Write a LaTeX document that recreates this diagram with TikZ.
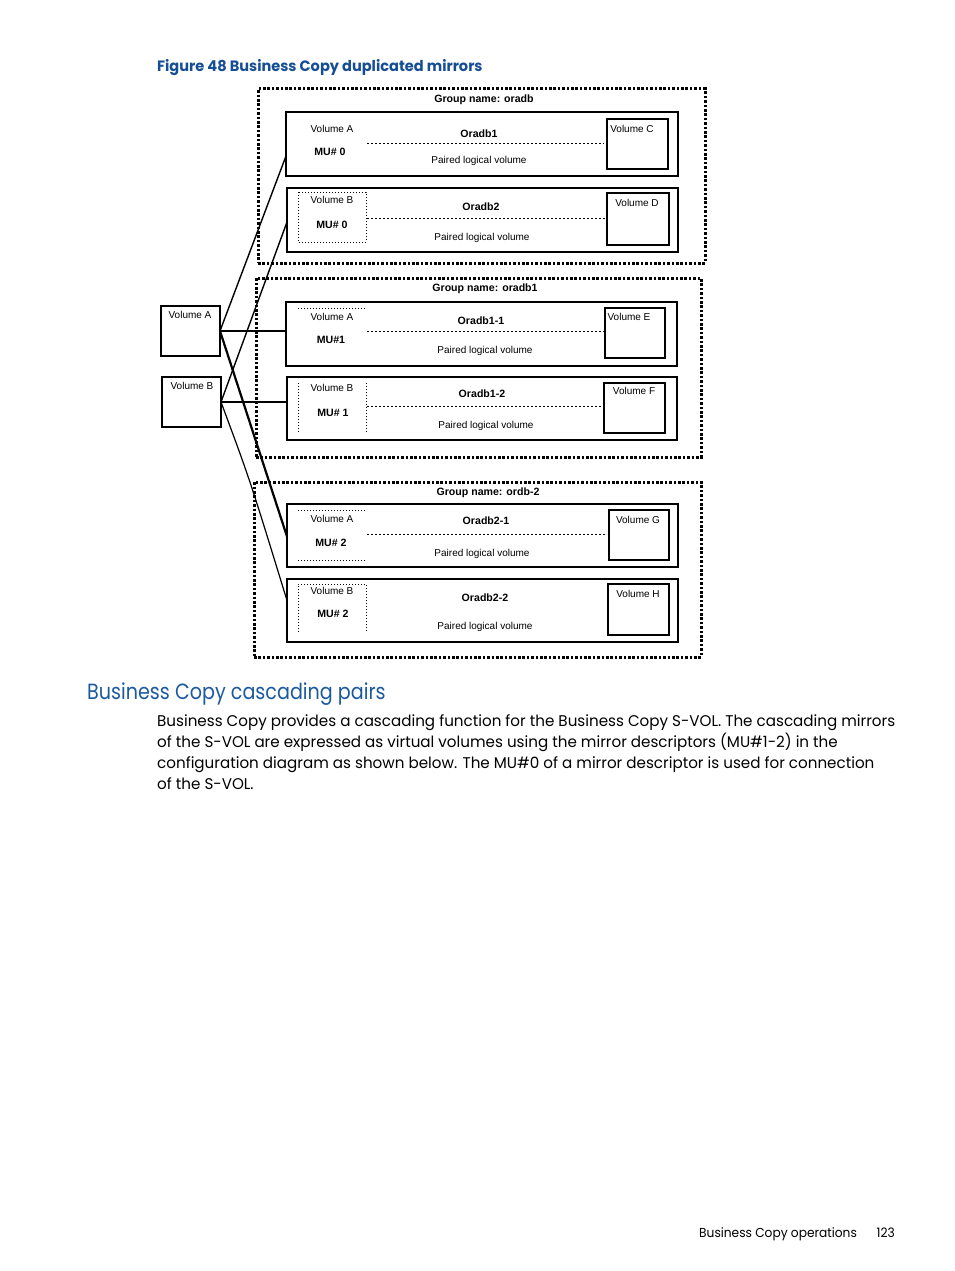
\documentclass[tikz,border=0pt]{standalone}
\usepackage{fontspec}
\setmainfont{Liberation Sans}
\newfontfamily\hpbody[FakeStretch=0.977]{Poppins}
\newfontfamily\hphead[FakeStretch=0.87]{Poppins}
\newfontfamily\hptitle[FakeStretch=0.97]{Poppins}
\newfontfamily\hpfoot[FakeStretch=0.94]{Poppins}
\definecolor{hpblue}{RGB}{28,90,160}
\definecolor{hpdark}{RGB}{22,78,150}
\begin{document}
\begin{tikzpicture}[x=1pt,y=-1pt,
  grp/.style={draw, line width=3pt, dash pattern=on 2.6pt off 1.8pt, anchor=north west, inner sep=0pt, outer sep=0pt},
  pairbox/.style={draw, line width=2.5pt, anchor=north west, inner sep=0pt, outer sep=0pt},
  volbox/.style={draw, line width=2.1pt, anchor=north west, inner sep=0pt, outer sep=0pt},
  lbl/.style={font=\fontsize{10}{12}\selectfont, inner sep=0pt},
  blbl/.style={font=\bfseries\fontsize{10.6}{12}\selectfont, inner sep=0pt},
  midline/.style={line width=0.8pt, dash pattern=on 2pt off 2pt},
  innerdot/.style={line width=0.8pt, dash pattern=on 1pt off 2pt},
  conn/.style={line width=1.4pt},
  bodytxt/.style={font=\hpbody\fontsize{15.5}{21}\selectfont, inner sep=0pt, anchor=base west}
]
\useasboundingbox (0,0) rectangle (954,1271);
\fill[white] (0,0) rectangle (954,1271);

% title
\node[font=\hptitle\bfseries\fontsize{15}{18}\selectfont, text=hpdark, inner sep=0pt, anchor=base west] (title) at (157,72) {Figure 48 Business Copy duplicated mirrors};

% groups
\node[grp, minimum width=447pt, minimum height=174pt] (G1) at (258,89) {};
\node[grp, minimum width=445pt, minimum height=179pt] (G2) at (256,278) {};
\node[grp, minimum width=447pt, minimum height=175pt] (G3) at (254,482) {};
\node[blbl] (G1t) at (484,100) {Group name: oradb};
\node[blbl] (G2t) at (485,289) {Group name: oradb1};
\node[blbl] (G3t) at (488,493) {Group name: ordb-2};

% pair boxes
\node[pairbox, minimum width=392pt, minimum height=64pt] (O1) at (286,112) {};
\node[pairbox, minimum width=391pt, minimum height=64pt] (O2) at (287,188) {};
\node[pairbox, minimum width=391pt, minimum height=64pt] (O11) at (286,302) {};
\node[pairbox, minimum width=390pt, minimum height=63pt] (O12) at (287,377) {};
\node[pairbox, minimum width=391pt, minimum height=63pt] (O21) at (287,504) {};
\node[pairbox, minimum width=391pt, minimum height=63pt] (O22) at (287,579) {};

% secondary volumes
\node[volbox, minimum width=61pt, minimum height=50pt] (VC) at (607,119) {};
\node[volbox, minimum width=62pt, minimum height=52pt] (VD) at (607,193) {};
\node[volbox, minimum width=60pt, minimum height=50pt] (VE) at (605,308) {};
\node[volbox, minimum width=61pt, minimum height=50pt] (VF) at (604,383) {};
\node[volbox, minimum width=60pt, minimum height=50pt] (VG) at (609,510) {};
\node[volbox, minimum width=61pt, minimum height=51pt] (VH) at (608,584) {};
\node[lbl] (VCt) at (632,129) {Volume C};
\node[lbl] (VDt) at (637,203) {Volume D};
\node[lbl] (VEt) at (629,317) {Volume E};
\node[lbl] (VFt) at (634,391) {Volume F};
\node[lbl] (VGt) at (638,520) {Volume G};
\node[lbl] (VHt) at (638,594) {Volume H};

% primary volumes
\node[volbox, minimum width=59pt, minimum height=50pt] (VA) at (161,306) {};
\node[volbox, minimum width=59pt, minimum height=50pt] (VB) at (162,377) {};
\node[lbl] (VAt) at (190,315) {Volume A};
\node[lbl] (VBt) at (192,386) {Volume B};

% Oradb1
\node[lbl] (a1) at (332,129) {Volume A};
\node[blbl] (m1) at (330,152) {MU\# 0};
\node[blbl] (n1) at (479,134) {Oradb1};
\node[lbl] (p1) at (479,161) {Paired logical volume};
\draw[midline] (367,143) -- (604,143);
% Oradb2
\draw[innerdot] (298,192) rectangle (366,242);
\node[lbl] (a2) at (332,200) {Volume B};
\node[blbl] (m2) at (332,225) {MU\# 0};
\node[blbl] (n2) at (481,207) {Oradb2};
\node[lbl] (p2) at (482,238) {Paired logical volume};
\draw[midline] (367,218) -- (605,218);
% Oradb1-1
\draw[innerdot] (298,308) -- (366,308);
\node[lbl] (a11) at (332,317) {Volume A};
\node[blbl] (m11) at (331,340) {MU\#1};
\node[blbl] (n11) at (481,321) {Oradb1-1};
\node[lbl] (p11) at (485,351) {Paired logical volume};
\draw[midline, line width=0.6pt] (367,331) -- (604,331);
% Oradb1-2
\draw[innerdot] (298,383) -- (298,433);
\draw[innerdot] (366,383) -- (366,433);
\node[lbl] (a12) at (332,388) {Volume B};
\node[blbl] (m12) at (333,413) {MU\# 1};
\node[blbl] (n12) at (482,394) {Oradb1-2};
\node[lbl] (p12) at (486,426) {Paired logical volume};
\draw[midline] (367,406) -- (603,406);
% Oradb2-1
\draw[innerdot] (298,510) -- (366,510);
\draw[innerdot] (298,560) -- (366,560);
\node[lbl] (a21) at (332,519) {Volume A};
\node[blbl] (m21) at (331,543) {MU\# 2};
\node[blbl] (n21) at (486,521) {Oradb2-1};
\node[lbl] (p21) at (482,554) {Paired logical volume};
\draw[midline] (367,534) -- (607,534);
% Oradb2-2
\draw[innerdot] (298,632) -- (298,584) -- (366,584) -- (366,632);
\node[lbl] (a22) at (332,591) {Volume B};
\node[blbl] (m22) at (333,614) {MU\# 2};
\node[blbl] (n22) at (485,598) {Oradb2-2};
\node[lbl] (p22) at (485,627) {Paired logical volume};

% connectors
\draw[conn] (VA.east) -- ([yshift=-12pt]O1.west);
\draw[conn, line width=1.3pt] (VA.east) -- (VA.east -| O11.west);
\draw[conn, line width=2.2pt] (VA.east) -- ([yshift=-1pt]O21.west);
\draw[conn] (VB.east) -- ([yshift=-2pt]O2.west);
\draw[conn, line width=1.6pt] (VB.east) -- (VB.east -| O12.west);
\draw[conn, line width=1.2pt] (VB.east) .. controls (250,480) .. ([yshift=10pt]O22.west);

% text
\node[font=\hphead\fontsize{22}{26}\selectfont, text=hpblue, inner sep=0pt, anchor=base west] (head) at (87,699) {Business Copy cascading pairs};
\node[bodytxt] (l1) at (157,726) {Business Copy provides a cascading function for the Business Copy S-VOL. The cascading mirrors};
\node[bodytxt] (l2) at (157,747) {of the S-VOL are expressed as virtual volumes using the mirror descriptors (MU\#1-2) in the};
\node[bodytxt] (l3) at (157,768) {configuration diagram as shown below. The MU\#0 of a mirror descriptor is used for connection};
\node[bodytxt] (l4) at (157,789) {of the S-VOL.};

\node[font=\hpfoot\fontsize{13}{15}\selectfont, inner sep=0pt, anchor=base west] (foot) at (699,1237) {Business Copy operations};
\node[font=\hpfoot\fontsize{13}{15}\selectfont, inner sep=0pt, anchor=base east] (page) at (895,1237) {123};
\end{tikzpicture}
\end{document}
